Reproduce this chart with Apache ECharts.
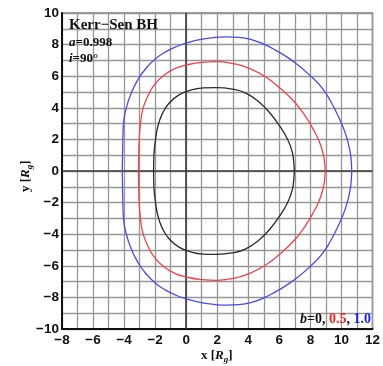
<!DOCTYPE html>
<html><head><meta charset="utf-8">
<script src="https://cdn.jsdelivr.net/npm/echarts@6/dist/echarts.min.js"></script>
<style>html,body{margin:0;padding:0;background:#fff}#c{width:383px;height:366px}</style>
</head><body><div id="c"></div>
<script>
// ---- data ----
const xTicks = [-8,-6,-4,-2,0,2,4,6,8,10,12];
const yTicks = [-10,-8,-6,-4,-2,0,2,4,6,8,10];
const seriesNames = ['b=0','b=0.5','b=1.0'];
const shadowB0 = [
 [-2.1,0],[-2.08,1.0],[-1.98,1.95],[-1.83,2.8],[-1.55,3.6],[-1.12,4.27],[-0.49,4.8],[0.25,5.11],[1.1,5.26],[1.94,5.28],[3.0,5.18],[3.84,4.93],[4.69,4.37],[5.42,3.64],[6.06,2.79],[6.5,2.06],[6.83,1.21],[6.94,0.4],[6.96,0],
 [6.94,-0.4],[6.83,-1.21],[6.5,-2.06],[6.06,-2.79],[5.42,-3.64],[4.69,-4.37],[3.84,-4.93],[3.0,-5.18],[1.94,-5.28],[1.1,-5.26],[0.25,-5.11],[-0.49,-4.8],[-1.12,-4.27],[-1.55,-3.6],[-1.83,-2.8],[-1.98,-1.95],[-2.08,-1.0],[-2.1,0]
];
const shadowB05 = [
 [-3.08,0],[-3.06,1.0],[-3.03,1.95],[-2.96,2.85],[-2.81,3.85],[-2.5,4.69],[-2.07,5.43],[-1.44,6.06],[-0.7,6.49],[0.15,6.74],[0.99,6.87],[1.94,6.92],[3.0,6.8],[4.06,6.5],[5.1,5.97],[6.1,5.2],[6.95,4.4],[7.62,3.55],[8.15,2.7],[8.58,1.85],[8.84,1.0],[8.93,0.4],[8.95,0],
 [8.93,-0.4],[8.84,-1.0],[8.58,-1.85],[8.15,-2.7],[7.62,-3.55],[6.95,-4.4],[6.1,-5.2],[5.1,-5.97],[4.06,-6.5],[3.0,-6.8],[1.94,-6.92],[0.99,-6.87],[0.15,-6.74],[-0.7,-6.49],[-1.44,-6.06],[-2.07,-5.43],[-2.5,-4.69],[-2.81,-3.85],[-2.96,-2.85],[-3.03,-1.95],[-3.06,-1.0],[-3.08,0]
];
const shadowB10 = [
 [-4.12,0],[-4.1,1.0],[-4.08,1.95],[-4.04,3.0],[-3.87,3.95],[-3.55,4.9],[-3.13,5.75],[-2.6,6.49],[-1.96,7.12],[-1.33,7.54],[-0.62,7.88],[0.15,8.14],[0.95,8.33],[1.8,8.45],[2.6,8.49],[3.4,8.46],[4.2,8.32],[5.0,8.03],[5.75,7.65],[6.35,7.3],[7.22,6.7],[8.07,5.96],[8.76,5.25],[9.33,4.37],[9.85,3.35],[10.28,2.3],[10.55,1.25],[10.64,0.5],[10.66,0],
 [10.64,-0.5],[10.55,-1.25],[10.28,-2.3],[9.85,-3.35],[9.33,-4.37],[8.76,-5.25],[8.07,-5.96],[7.22,-6.7],[6.35,-7.3],[5.75,-7.65],[5.0,-8.03],[4.2,-8.32],[3.4,-8.46],[2.6,-8.49],[1.8,-8.45],[0.95,-8.33],[0.15,-8.14],[-0.62,-7.88],[-1.33,-7.54],[-1.96,-7.12],[-2.6,-6.49],[-3.13,-5.75],[-3.55,-4.9],[-3.87,-3.95],[-4.04,-3.0],[-4.08,-1.95],[-4.1,-1.0],[-4.12,0]
];
// ---------------------------------------
const chart = echarts.init(document.getElementById('c'), null, {renderer:'canvas'});
const minus = v => String(v).replace('-', '\u2212');
const gridCol = '#969696';
const labelStyle = {color:'#111', fontFamily:'Liberation Sans, Arial, sans-serif', fontWeight:'bold', fontSize:13.5};
const serif = 'Liberation Serif, Times New Roman, serif';
const lineSeries = (name, data, color) => ({
  name, type:'line', data, smooth:0.5, symbol:'none',
  lineStyle:{color, width:1.3}, z:5, animation:false
});
const option = {
  animation:false,
  grid:{left:62, right:7, top:13, bottom:37, show:true, borderColor:'#777', borderWidth:1.5},
  xAxis:{type:'value', min:xTicks[0], max:xTicks[xTicks.length-1], interval:2,
    axisLine:{onZero:false, lineStyle:{color:'#111', width:2}},
    axisTick:{show:false},
    axisLabel:{...labelStyle, margin:4, formatter:minus},
    splitLine:{show:true, lineStyle:{color:gridCol, width:1.3}},
    minorTick:{show:false, splitNumber:2},
    minorSplitLine:{show:true, lineStyle:{color:gridCol, width:1.3}}
  },
  yAxis:{type:'value', min:yTicks[0], max:yTicks[yTicks.length-1], interval:2,
    axisLine:{onZero:false, lineStyle:{color:'#111', width:2}},
    axisTick:{show:false},
    axisLabel:{...labelStyle, margin:3, formatter:minus},
    splitLine:{show:true, lineStyle:{color:gridCol, width:1.3}},
    minorTick:{show:false, splitNumber:2},
    minorSplitLine:{show:true, lineStyle:{color:gridCol, width:1.3}}
  },
  series:[
    {type:'line', data:[], markLine:{silent:true, symbol:'none', label:{show:false},
      lineStyle:{color:'#3a3a3a', width:1.6, type:'solid'}, data:[{xAxis:0},{yAxis:0}]}, z:3},
    lineSeries(seriesNames[0], shadowB0, '#2a2a2a'),
    lineSeries(seriesNames[1], shadowB05, '#f0404f'),
    lineSeries(seriesNames[2], shadowB10, '#4a4ae6')
  ],
  graphic:[
    {type:'text', left:69, top:18, z:11, style:{text:'Kerr\u2212Sen BH', font:'bold 15px '+serif, fill:'#111'}},
    {type:'text', left:69, top:36, z:11, style:{text:'{i|a}{n|=0.998}', rich:{i:{font:'italic bold 13px '+serif, fill:'#111'}, n:{font:'bold 13px '+serif, fill:'#111'}}}},
    {type:'text', left:69, top:52, z:11, style:{text:'{i|i}{n|=90\u00b0}', rich:{i:{font:'italic bold 13px '+serif, fill:'#111'}, n:{font:'bold 13px '+serif, fill:'#111'}}}},
    {type:'text', left:300, top:312, z:11, style:{text:'{i|b}{k|=0, }{r|0.5}{k|, }{b|1.0}', rich:{
      i:{font:'italic bold 14px '+serif, fill:'#111'}, k:{font:'bold 14px '+serif, fill:'#111'},
      r:{font:'bold 14px '+serif, fill:'#ff2020'}, b:{font:'bold 14px '+serif, fill:'#2020ee'}}}},
    {type:'text', left:201, top:349, z:11, style:{text:'{n|x [}{i|R}{s|g}{n|]}', rich:{
      n:{font:'bold 13px '+serif, fill:'#111', lineHeight:16}, i:{font:'italic bold 13px '+serif, fill:'#111', lineHeight:16},
      s:{font:'italic bold 9px '+serif, fill:'#111', verticalAlign:'bottom', padding:[6,0,0,0], lineHeight:16}}}},
    {type:'text', x:18, y:192, rotation:Math.PI/2, z:11, style:{text:'{n|y [}{i|R}{s|g}{n|]}', rich:{
      n:{font:'bold 13px '+serif, fill:'#111', lineHeight:16}, i:{font:'italic bold 13px '+serif, fill:'#111', lineHeight:16},
      s:{font:'italic bold 9px '+serif, fill:'#111', verticalAlign:'bottom', padding:[6,0,0,0], lineHeight:16}}}}
  ]
};
chart.setOption(option);
</script></body></html>
